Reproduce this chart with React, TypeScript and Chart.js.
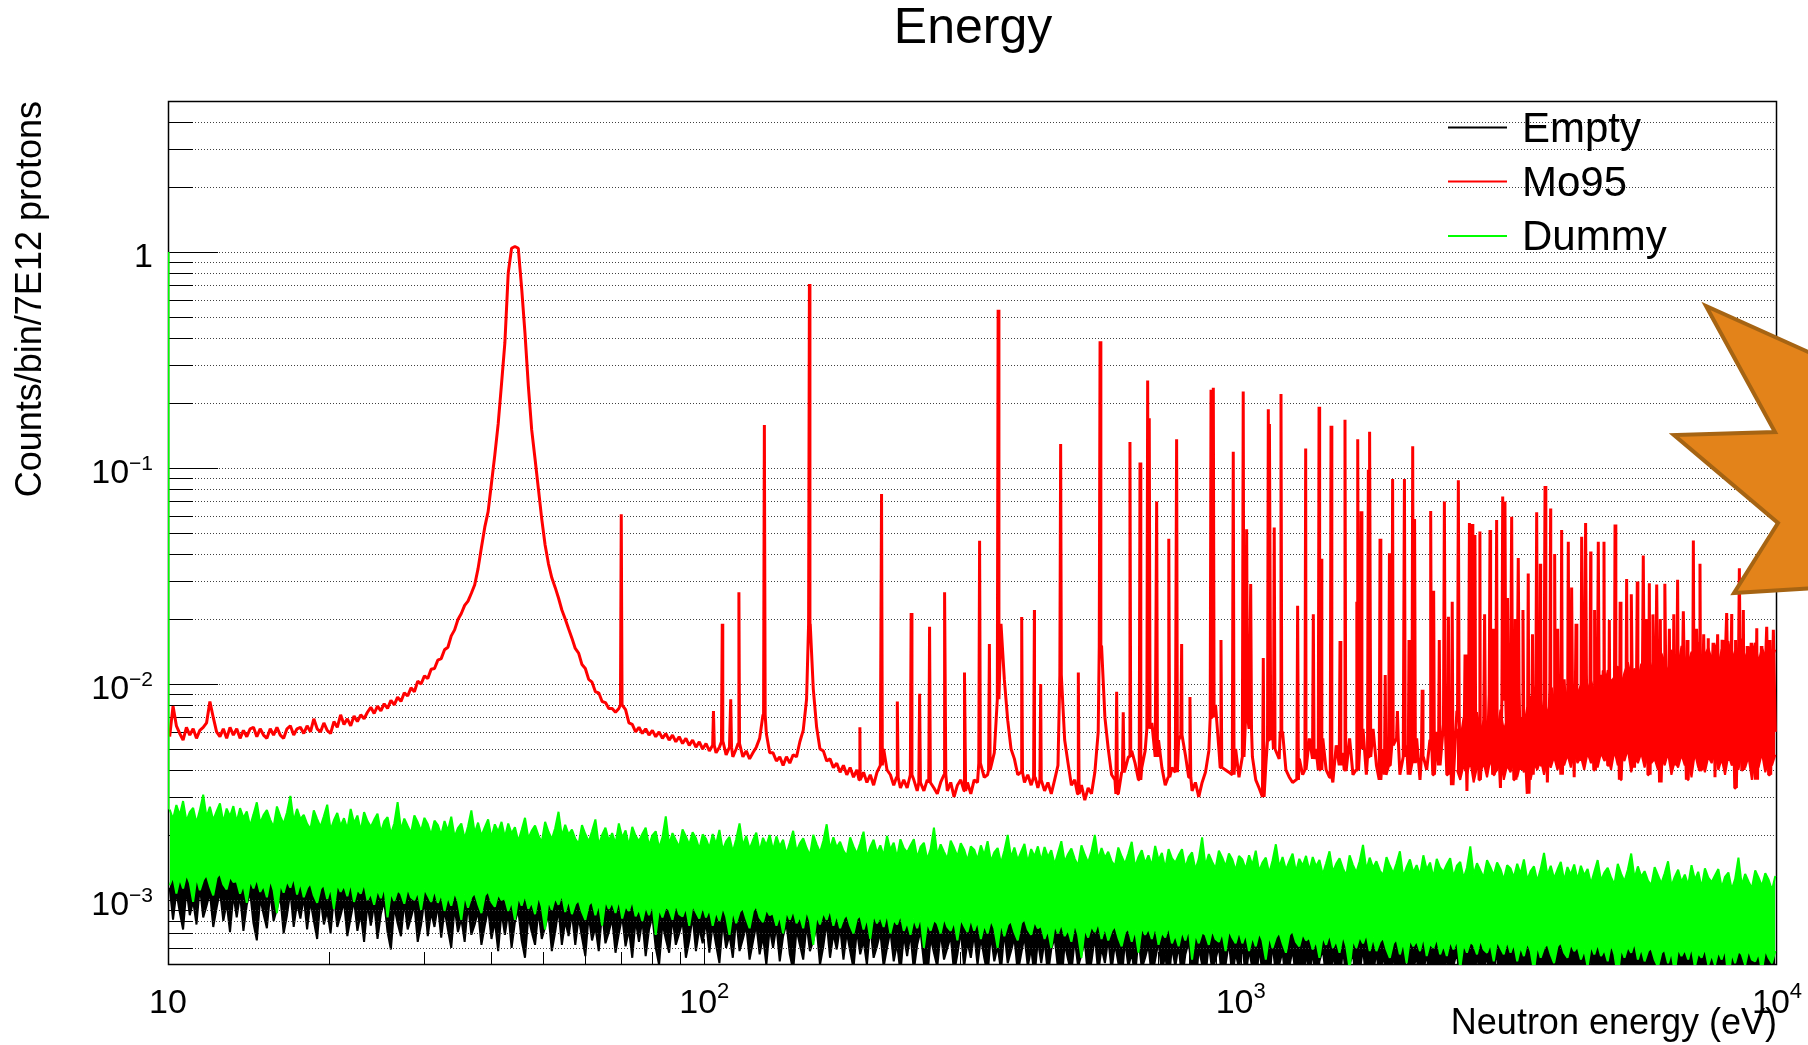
import React, { useEffect, useRef } from 'react';
import { Chart, registerables } from 'chart.js';

Chart.register(...registerables);

// ---------- texts ----------
const TITLE = 'Energy';
const X_TITLE = 'Neutron energy (eV)';
const Y_TITLE = 'Counts/bin/7E12 protons';
const LEGEND_LABELS = ['Empty', 'Mo95', 'Dummy'];
const LEGEND_COLORS = ['#000000', '#ff0000', '#00ff00'];

// ---------- axes ----------
const X_MIN = 10;
const X_MAX = 10000;
const Y_MIN = 5e-4;
const Y_MAX = 5;
const X_LABEL_EXPONENTS = [1, 2, 3, 4];
const Y_LABEL_EXPONENTS = [0, -1, -2, -3];

// ---------- all series use log bins, 160 per decade from 10 eV ----------
const BINS_PER_DECADE = 160;

// Mo95 (red), values in 1e-4
const MO95_UNIT = 1e-4;
const MO95_BASE = [
  57,79,64,59,55,63,58,62,56,61,63,66,83,70,60,57,62,56,63,58,
  62,56,61,57,62,63,57,62,58,56,62,58,63,58,56,62,64,58,62,63,
  59,64,60,69,62,60,66,61,59,67,63,72,65,69,64,71,67,72,69,74,
  78,73,79,75,81,77,84,80,87,83,91,88,96,92,103,100,109,106,117,118,
  129,131,144,148,167,178,199,212,231,242,263,288,342,428,532,628,850,1150,1600,2450,
  3800,8000,10400,10600,10400,6800,4200,2400,1500,1100,800,580,440,360,310,280,250,220,200,180,
  163,146,139,123,118,105,102,92,91,83,82,77,77,74,77,80,76,66,65,60,
  63,59,62,58,61,57,60,56,59,55,58,54,57,53,56,52,55,51,54,50,
  53,49,52,48,51,54,47,51,46,50,53,46,49,45,48,51,56,72,59,48,
  48,44,46,42,46,43,47,46,54,61,85,190,95,63,50,49,44,45,41,43,
  39,42,38,41,37,40,36,39,35,38,34,39,42,50,40,38,34,37,33,36,
  33,38,36,32,35,32,36,35,33,31,35,38,32,35,30,34,36,32,35,31,
  36,35,43,37,38,40,48,85,190,105,68,50,45,38,39,35,38,34,37,33,
  36,32,35,31,36,42,110,55,43,34,36,31,34,29,33,31,39,60,150,70,
  50,38,36,31,39,40,46,49,43,36,41,49,62,66,46,55,41,34,37,41,
  39,55,58,47,37,32,35,30,35,39,49,70,80,50,41,40,39,38,50,37,
  46,72,62,46,36,33,30,42,55,62,50,45,60,40,37,35,36,45,38,40,
  56,45,50,40,56,40,37,35,52,42,48,40,56,38,40,50,62,38,46,62,
  42,36,50,38,42,52,56,38,46,52,38,43,56,36,46,40,55,38,60,42,
  65,38,70,34,75,40,58,32,80,45,70,36,65,42,90,38,72,33,85,44,
  78,36,95,40,68,31,88,38,100,42,80,35,96,45,75,38,105,48,90,37,
  85,44,110,46,92,40,100,50,115,42,88,47,105,36,95,52,110,41,98,55,
  115,38,105,56,120,35,110,58,118,42,108,60,122,36,112,55,125,40,104,57,
  118,37,110,60,122,44,115,33,120,40,112,58,118,36,108,56,116,38,112,60,
];
// dense high-energy region of Mo95 (bins from MO95_BAND_START), 1e-4
const MO95_BAND_START = 384;
const MO95_BAND_UPPER = [
  62,55,70,58,66,52,74,60,68,57,72,63,59,76,61,69,56,73,65,70,
  64,78,60,82,71,66,85,74,79,68,88,81,92,76,95,84,90,99,86,94,
  104,92,101,110,95,116,102,108,121,99,113,126,107,118,103,124,114,131,118,135,
  122,139,126,113,144,129,119,150,132,124,141,134,156,125,137,147,130,152,122,145,
  136,158,127,143,133,162,129,149,139,155,126,147,135,157,131,144,
];
const MO95_BAND_LOWER = [
  40,36,42,38,44,35,41,39,43,37,45,38,40,46,36,42,39,44,37,43,
  39,44,36,43,40,45,38,44,41,46,40,45,42,47,41,48,43,46,40,48,
  43,47,41,48,44,46,40,49,42,47,44,50,39,46,43,48,41,47,43,45,
  40,46,42,48,38,44,41,47,42,45,37,48,41,44,39,46,43,48,40,45,
  38,47,42,44,40,48,41,46,36,45,41,48,39,44,42,47,
];
// narrow resonances: [energy (eV), counts]
const MO95_PEAKS = [
  [70.0, 0.061], [104, 0.0075], [108, 0.019], [112, 0.0085], [116, 0.0266], [129.4, 0.158],
  [157, 0.71], [195, 0.0063], [214, 0.0757], [229, 0.0083], [243, 0.0213], [252, 0.009],
  [263, 0.0184], [281, 0.0266], [306, 0.0113], [326, 0.046], [340, 0.0153], [353, 0.54],
  [390.6, 0.0204], [412.5, 0.022], [423.8, 0.010], [461.7, 0.129], [498.1, 0.0113], [546.8, 0.386],
  [587.2, 0.0092], [604, 0.0074], [621.7, 0.132], [649.1, 0.106], [670.8, 0.254], [675.4, 0.17],
  [697.2, 0.07], [735.0, 0.047], [759.6, 0.136], [776.2, 0.0153], [804.4, 0.0087], [880.5, 0.23],
  [889.2, 0.235], [919.0, 0.016], [968.7, 0.119], [1011, 0.226], [1026, 0.052], [1044, 0.029],
  [1102, 0.0132], [1126, 0.187], [1134, 0.16], [1155, 0.053], [1189, 0.22], [1277, 0.023],
  [1322, 0.123], [1366, 0.021], [1400, 0.192], [1412, 0.038], [1474, 0.157], [1532, 0.0158],
  [1565, 0.167], [1646, 0.024], [1653, 0.136], [1677, 0.063], [1730, 0.098], [1742, 0.147],
  [1819, 0.047], [1860, 0.011], [1894, 0.0403], [1920, 0.089], [1960, 0.0075], [2020, 0.089],
  [2060, 0.016], [2093, 0.126], [2110, 0.058], [2180, 0.0094], [2261, 0.0632], [2290, 0.027],
  [2346, 0.016], [2398, 0.0699], [2440, 0.0205], [2480, 0.024], [2546, 0.0878], [2620, 0.0137],
  [2670, 0.0556], [2700, 0.055], [2734, 0.049], [2793, 0.0508], [2850, 0.021], [2917, 0.0516],
  [2960, 0.018], [3001, 0.0574], [3080, 0.0737], [3110, 0.07], [3150, 0.025], [3201, 0.0594],
  [3250, 0.02], [3293, 0.0383], [3360, 0.022], [3437, 0.0325], [3500, 0.017], [3564, 0.0623],
  [3620, 0.036], [3694, 0.0826], [3784, 0.065], [3850, 0.04], [3900, 0.018], [3967, 0.0516],
  [4082, 0.0456], [4141, 0.028], [4220, 0.019], [4323, 0.048], [4397, 0.0556], [4494, 0.041],
  [4570, 0.022], [4643, 0.0456], [4758, 0.0456], [4868, 0.0198], [4989, 0.0547], [5100, 0.024],
  [5244, 0.0306], [5350, 0.026], [5489, 0.0298], [5632, 0.0393], [5700, 0.02], [5780, 0.0293],
  [5870, 0.021], [5966, 0.0289], [6060, 0.02], [6182, 0.0291], [6300, 0.018], [6420, 0.021],
  [6527, 0.0304], [6689, 0.0217], [6800, 0.016], [6983, 0.0461], [7080, 0.018], [7185, 0.036],
  [7300, 0.017], [7444, 0.0163], [7600, 0.0155], [7750, 0.017], [7900, 0.016], [8057, 0.0213],
  [8233, 0.0211], [8370, 0.016], [8508, 0.0343], [8655, 0.022], [8800, 0.015], [8950, 0.0155],
  [9168, 0.0181], [9350, 0.015], [9568, 0.0184], [9700, 0.016], [9845, 0.0178],
];

// Dummy (green) band edges and Empty (black), values in 1e-5
const BAND_UNIT = 1e-5;
const DUMMY_FIRST_BIN = 1.0;
const DUMMY_UPPER = [
  262,237,275,247,287,232,255,267,227,260,307,242,270,234,257,280,229,265,244,272,
  230,266,240,257,220,249,283,227,247,261,235,218,271,244,225,254,303,232,264,237,
  248,225,213,260,237,218,244,276,211,234,253,220,239,213,264,227,246,209,255,232,
  218,235,251,206,231,242,202,226,284,211,238,220,204,246,229,209,240,224,200,233,
  222,200,232,209,243,196,215,226,192,219,260,204,228,198,217,236,194,224,207,230,
  195,226,203,217,187,211,240,193,209,221,199,185,230,207,191,215,256,197,223,201,
  212,192,182,222,202,186,208,236,180,200,216,188,204,182,226,194,210,178,218,198,
  187,202,216,178,199,208,174,195,244,181,204,189,176,212,197,180,206,193,172,201,
  192,174,202,181,211,170,187,196,167,191,226,178,198,172,189,205,168,194,179,200,
  170,197,177,190,163,184,209,168,183,193,174,161,200,181,166,188,224,172,195,175,
  186,169,160,195,177,164,183,207,158,176,190,165,179,160,198,171,184,157,191,174,
  166,179,191,157,176,184,154,172,216,161,181,167,155,188,174,159,183,171,152,177,
  171,154,179,161,187,151,166,174,148,169,200,157,175,153,167,182,149,172,159,177,
  152,176,158,170,146,165,187,150,163,173,155,144,179,162,149,168,200,154,174,157,
  167,151,144,175,159,147,164,186,142,158,170,148,161,144,178,153,165,140,172,156,
  149,161,172,141,158,166,138,155,195,144,163,150,140,169,157,143,164,154,137,160,
  154,139,161,145,169,136,149,157,133,152,181,142,158,138,151,164,135,155,144,160,
  137,158,143,153,131,148,168,135,147,156,140,130,161,145,134,151,180,138,157,141,
  151,137,130,158,144,133,148,168,128,142,154,134,145,130,161,138,149,127,155,141,
  135,146,156,128,144,150,126,141,177,131,148,137,127,153,142,130,149,139,124,145,
  140,127,147,132,154,124,136,143,122,139,165,130,144,126,138,150,123,142,131,146,
  124,144,130,139,119,135,153,123,134,141,127,118,147,132,122,138,164,126,143,128,
  136,123,117,142,130,119,133,151,116,128,138,121,131,117,145,124,135,114,140,127,
  121,130,139,114,128,134,112,125,157,117,132,122,113,137,127,116,133,124,111,129,
];
const DUMMY_LOWER = [
  117,129,107,126,113,132,120,98,128,111,124,131,116,105,127,133,118,112,129,121,
  122,107,118,97,124,113,126,109,117,103,125,111,87,119,108,123,114,128,106,121,
  103,114,120,105,97,113,118,101,115,91,119,109,117,104,121,98,112,107,120,100,
  108,95,112,102,116,83,109,99,111,107,96,114,103,100,110,90,113,105,98,112,
  97,107,89,104,94,109,99,81,106,92,103,108,96,87,105,110,98,93,107,100,
  102,89,99,81,104,94,106,91,98,86,105,93,73,100,90,103,95,107,88,101,
  86,96,100,88,81,95,99,85,97,76,100,91,98,87,101,82,94,89,100,84,
  91,80,94,85,97,69,92,83,93,90,81,96,86,84,93,76,95,88,82,94,
  83,91,76,89,80,93,84,69,90,78,88,92,82,74,89,94,83,79,91,85,
  87,76,85,70,89,81,90,78,84,74,90,80,62,85,77,88,81,91,76,86,
  74,82,86,76,70,82,85,73,83,66,86,78,84,75,87,70,81,77,86,72,
  79,69,82,74,84,60,79,72,81,78,70,83,75,72,80,65,82,76,71,82,
  72,80,66,77,70,81,74,60,79,68,77,80,71,65,78,82,73,69,80,74,
  76,66,73,60,77,70,78,68,73,64,78,69,54,74,67,76,71,79,66,75,
  65,72,76,67,61,71,74,64,73,57,75,69,74,66,76,62,71,67,76,63,
  69,61,72,65,74,53,70,63,71,69,62,73,66,64,71,58,73,67,63,72,
  63,70,58,68,61,71,65,53,69,60,67,71,63,57,69,72,64,61,70,65,
  67,59,65,54,68,62,70,60,65,57,69,61,48,66,60,68,63,70,58,67,
  58,64,67,59,54,63,66,56,64,51,66,61,65,58,68,55,63,60,67,56,
  62,55,65,59,66,48,63,57,64,62,56,66,59,57,63,52,65,60,56,65,
  57,63,52,61,55,64,58,47,62,54,60,63,56,51,61,64,57,54,63,58,
  61,53,59,49,62,56,63,55,59,52,63,56,44,60,54,61,57,64,53,60,
  52,58,60,53,49,57,59,51,58,46,60,55,59,53,61,49,57,54,60,50,
  56,50,58,53,60,43,57,51,58,56,50,59,53,52,57,47,59,54,51,58,
];
const EMPTY_VALUES = [
  114,81,109,88,73,112,85,99,77,116,83,94,108,75,92,110,80,97,71,106,
  83,106,72,95,109,78,65,102,86,74,108,80,91,104,70,85,110,75,97,82,
  103,73,99,80,66,102,77,89,70,105,75,85,98,68,83,100,72,87,64,96,
  76,96,66,86,99,71,59,93,78,68,98,73,83,95,64,77,100,68,88,75,
  95,67,90,73,60,93,71,82,64,96,69,77,89,62,76,91,66,80,58,88,
  69,88,60,79,90,65,54,84,71,62,89,66,75,86,58,71,91,62,80,68,
  87,62,83,67,55,85,65,75,58,88,63,71,82,57,70,84,61,73,54,81,
  64,81,55,73,84,60,50,78,66,57,83,62,70,80,54,65,84,58,74,63,
  80,57,77,62,51,79,60,69,54,82,58,66,76,53,64,77,56,68,50,74,
  60,76,52,68,78,56,47,73,62,53,77,58,65,75,50,61,79,54,70,59,
  75,53,71,58,48,73,56,65,50,76,54,61,71,49,60,72,52,63,46,69,
  55,70,47,62,72,51,43,67,57,49,71,53,60,68,46,56,72,49,64,54,
  70,50,67,54,45,69,52,61,47,72,51,58,67,46,56,68,49,60,44,65,
  51,65,45,59,67,48,40,63,53,46,66,49,56,64,43,52,68,46,60,51,
  66,47,63,51,42,65,49,57,44,67,48,54,62,43,53,64,46,56,41,61,
  49,62,42,56,64,46,38,60,50,44,63,47,53,61,41,50,64,44,57,48,
  62,44,59,48,39,60,46,53,41,63,45,50,58,40,49,59,43,52,38,57,
  45,58,39,52,59,43,36,56,47,41,59,44,50,57,38,46,60,41,53,45,
  58,41,56,45,37,57,43,50,39,59,42,48,55,38,47,56,41,49,36,54,
  44,56,38,50,57,41,34,54,45,39,57,42,48,55,37,45,58,40,51,43,
  55,39,53,43,35,54,41,48,37,56,40,45,52,36,44,53,39,47,34,51,
  41,52,36,47,54,39,32,50,43,37,53,40,45,51,35,42,54,37,48,41,
  53,37,50,41,34,52,39,46,36,54,38,43,50,35,42,51,37,45,33,49,
  39,50,34,45,52,37,31,48,41,35,51,38,43,49,33,40,52,36,46,39,
];

// ---------- helpers ----------
const binCenter = (i: number) =>
  Math.pow(10, Math.log10(X_MIN) + (i + 0.5) / BINS_PER_DECADE);

const binnedPoints = (values: number[], unit: number, start = 0) =>
  values.map((v, k) => ({ x: binCenter(start + k), y: v * unit }));

function mo95Points() {
  const pts = binnedPoints(MO95_BASE, MO95_UNIT);
  const half = Math.pow(10, 0.0015);
  for (const [e, v] of MO95_PEAKS) {
    const i = Math.max(0, Math.min(MO95_BASE.length - 1,
      Math.floor((Math.log10(e) - Math.log10(X_MIN)) * BINS_PER_DECADE)));
    const b = MO95_BASE[i] * MO95_UNIT;
    pts.push({ x: e / half, y: b }, { x: e, y: v }, { x: e * half, y: b });
  }
  pts.sort((a, b) => a.x - b.x);
  return pts;
}

function logGridValues(min: number, max: number) {
  const out: number[] = [];
  for (let e = Math.floor(Math.log10(min)); e <= Math.ceil(Math.log10(max)); e++) {
    for (let m = 1; m <= 9; m++) {
      const v = m * Math.pow(10, e);
      if (v > min * 1.0001 && v < max * 0.9999) out.push(v);
    }
  }
  return out;
}
const isPow10 = (v: number) => Math.abs(Math.log10(v) - Math.round(Math.log10(v))) < 1e-9;

const FONT = '"Liberation Sans", Arial, Helvetica, sans-serif';
const EMPTY_INDEX = 6;

const decorPlugin = {
  id: 'rootDecor',
  afterDatasetDraw(chart: any, args: any) {
    if (args.index !== EMPTY_INDEX) return;
    const { ctx, chartArea: ca, scales } = chart;
    const xs = scales.x;
    const ys = scales.y;
    ctx.save();
    ctx.strokeStyle = '#404040';
    ctx.lineWidth = 1;
    ctx.setLineDash([1, 2]);
    const yv = logGridValues(Y_MIN, Y_MAX);
    for (const v of yv) {
      const y = Math.round(ys.getPixelForValue(v)) + 0.5;
      ctx.beginPath();
      ctx.moveTo(ca.left, y);
      ctx.lineTo(ca.right, y);
      ctx.stroke();
    }
    ctx.setLineDash([]);
    ctx.strokeStyle = '#000';
    for (const v of yv) {
      const y = Math.round(ys.getPixelForValue(v)) + 0.5;
      ctx.beginPath();
      ctx.moveTo(ca.left, y);
      ctx.lineTo(ca.left + (isPow10(v) ? 50 : 25), y);
      ctx.stroke();
    }
    for (const v of logGridValues(X_MIN, X_MAX)) {
      const x = Math.round(xs.getPixelForValue(v)) + 0.5;
      ctx.beginPath();
      ctx.moveTo(x, ca.bottom);
      ctx.lineTo(x, ca.bottom - (isPow10(v) ? 26 : 13));
      ctx.stroke();
    }
    ctx.lineWidth = 1.5;
    ctx.strokeRect(ca.left + 0.5, ca.top + 0.5, ca.right - ca.left - 1, ca.bottom - ca.top - 1);
    ctx.restore();
  },
  afterDraw(chart: any) {
    const { ctx, chartArea: ca, scales } = chart;
    const xs = scales.x;
    const ys = scales.y;
    ctx.save();
    ctx.fillStyle = '#000';
    ctx.textBaseline = 'alphabetic';
    ctx.font = `50px ${FONT}`;
    ctx.textAlign = 'center';
    ctx.fillText(TITLE, 973, 43);
    ctx.font = `36px ${FONT}`;
    ctx.textAlign = 'right';
    ctx.fillText(X_TITLE, ca.right, 1034);
    ctx.save();
    ctx.translate(41, ca.top);
    ctx.rotate(-Math.PI / 2);
    ctx.textAlign = 'right';
    ctx.fillText(Y_TITLE, 0, 0);
    ctx.restore();
    for (const e of Y_LABEL_EXPONENTS) {
      const y = ys.getPixelForValue(Math.pow(10, e));
      const right = 153;
      if (e === 0) {
        ctx.font = `34px ${FONT}`;
        ctx.textAlign = 'right';
        ctx.fillText('1', right, y + 15);
        continue;
      }
      const sup = e < 0 ? '\u2212' + String(-e) : String(e);
      ctx.font = `21px ${FONT}`;
      const sw = ctx.measureText(sup).width;
      ctx.textAlign = 'left';
      ctx.fillText(sup, right - sw, y + 2);
      ctx.font = `34px ${FONT}`;
      ctx.textAlign = 'right';
      ctx.fillText('10', right - sw, y + 15);
    }
    for (const e of X_LABEL_EXPONENTS) {
      const x = xs.getPixelForValue(Math.pow(10, e));
      ctx.font = `34px ${FONT}`;
      const mw = ctx.measureText('10').width;
      if (e === 1) {
        ctx.textAlign = 'center';
        ctx.fillText('10', x, 1013);
        continue;
      }
      const sup = String(e);
      ctx.font = `22px ${FONT}`;
      const sw = ctx.measureText(sup).width;
      const start = x - (mw + sw) / 2;
      ctx.textAlign = 'left';
      ctx.font = `34px ${FONT}`;
      ctx.fillText('10', start, 1013);
      ctx.font = `22px ${FONT}`;
      ctx.fillText(sup, start + mw, 998);
    }
    const legY = [127.5, 181.5, 236];
    LEGEND_LABELS.forEach((lab, k) => {
      ctx.strokeStyle = LEGEND_COLORS[k];
      ctx.lineWidth = 2;
      ctx.beginPath();
      ctx.moveTo(1448, legY[k]);
      ctx.lineTo(1507, legY[k]);
      ctx.stroke();
      ctx.fillStyle = '#000';
      ctx.font = `42px ${FONT}`;
      ctx.textAlign = 'left';
      ctx.fillText(lab, 1522, legY[k] + 14);
    });
    ctx.restore();
  },
};

export default function App() {
  const ref = useRef<HTMLCanvasElement | null>(null);
  useEffect(() => {
    const canvas = ref.current;
    if (!canvas) return;
    const datasets: any[] = [
      {
        label: 'Dummy first bin',
        data: [{ x: X_MIN, y: DUMMY_FIRST_BIN }, { x: X_MIN, y: DUMMY_UPPER[0] * BAND_UNIT }],
        borderColor: '#00ff00', borderWidth: 3, fill: false,
      },
      {
        label: 'Dummy',
        data: binnedPoints(DUMMY_UPPER, BAND_UNIT),
        borderColor: '#00ff00', backgroundColor: '#00ff00', borderWidth: 2, fill: '+1',
      },
      {
        label: 'Dummy low',
        data: binnedPoints(DUMMY_LOWER, BAND_UNIT),
        borderColor: '#00ff00', borderWidth: 2, fill: false,
      },
      {
        label: 'Mo95',
        data: mo95Points(),
        borderColor: '#ff0000', borderWidth: 3, fill: false,
      },
      {
        label: 'Mo95 dense upper',
        data: binnedPoints(MO95_BAND_UPPER, MO95_UNIT, MO95_BAND_START),
        borderColor: '#ff0000', backgroundColor: '#ff0000', borderWidth: 2, fill: '+1',
      },
      {
        label: 'Mo95 dense lower',
        data: binnedPoints(MO95_BAND_LOWER, MO95_UNIT, MO95_BAND_START),
        borderColor: '#ff0000', borderWidth: 2, fill: false,
      },
      {
        label: 'Empty',
        data: binnedPoints(EMPTY_VALUES, BAND_UNIT),
        borderColor: '#000000', backgroundColor: '#000000', borderWidth: 2, fill: 2,
      },
    ];
    const chart = new Chart(canvas, {
      type: 'line',
      data: { datasets },
      options: {
        responsive: false,
        maintainAspectRatio: false,
        animation: false,
        devicePixelRatio: 1,
        events: [],
        layout: { padding: { left: 168, right: 31, top: 101, bottom: 80 } },
        elements: {
          point: { radius: 0, hoverRadius: 0, hitRadius: 0 },
          line: { tension: 0, borderJoinStyle: 'bevel', borderCapStyle: 'butt' },
        },
        plugins: {
          legend: { display: false },
          title: { display: false },
          tooltip: { enabled: false },
        },
        scales: {
          x: { type: 'logarithmic', min: X_MIN, max: X_MAX, display: false },
          y: { type: 'logarithmic', min: Y_MIN, max: Y_MAX, display: false },
        },
      } as any,
      plugins: [decorPlugin as any],
    } as any);
    return () => chart.destroy();
  }, []);

  return (
    <div style={{ position: 'fixed', left: 0, top: 0, width: 1808, height: 1045, background: '#fff', overflow: 'hidden' }}>
      <canvas ref={ref} width={1808} height={1045} style={{ display: 'block', width: 1808, height: 1045 }} />
      <svg width={1808} height={1045} style={{ position: 'absolute', left: 0, top: 0, pointerEvents: 'none' }}>
        <polygon
          points="1815,355 1706,306 1775,432 1674,435 1778,523 1734,593 1815,588"
          fill="#E3831A"
          stroke="#A66413"
          strokeWidth={4}
          strokeLinejoin="miter"
        />
      </svg>
    </div>
  );
}
